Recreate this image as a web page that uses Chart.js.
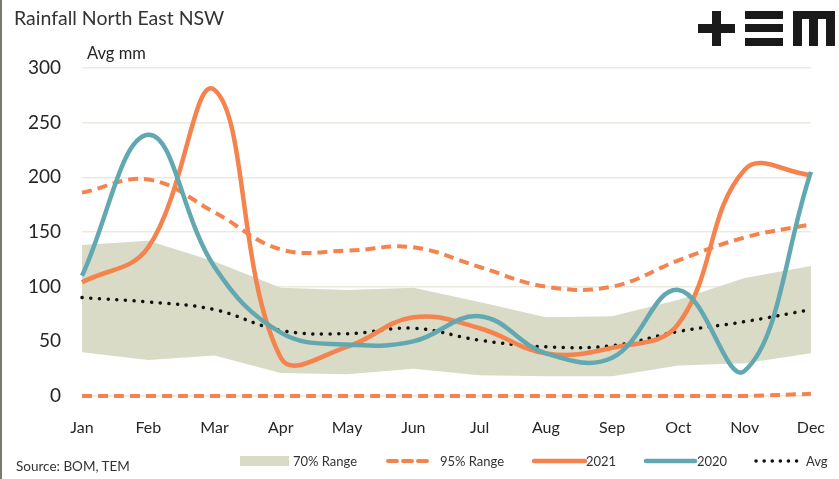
<!DOCTYPE html>
<html>
<head>
<meta charset="utf-8">
<script src="https://cdn.jsdelivr.net/npm/chart.js@4"></script>
<style>
  body { margin: 0; background: #fff; font-family: Lato, "Open Sans", sans-serif; }
  #wrap { position: relative; width: 839px; height: 479px; overflow: hidden; }
  #edge { position: absolute; left: 0; top: 0; width: 2px; height: 479px; background: #7a7a72; }
  #title { position: absolute; left: 14px; top: 6px; font-size: 19.5px; color: #333; }
  #unit { position: absolute; left: 87px; top: 43px; font-size: 16.5px; color: #262626; }
  #source { position: absolute; left: 16px; top: 458px; font-size: 13.5px; color: #333; }
  .lg { position: absolute; top: 452px; font-size: 13px; color: #333; line-height: 18px; }
  .logo div { position: absolute; background: #1a1a1a; }
</style>
</head>
<body>
<div id="wrap">
  <canvas id="rain" width="839" height="479"></canvas>
  <div id="edge"></div>
  <div id="title">Rainfall North East NSW</div>
  <div id="unit">Avg mm</div>
  <div id="source">Source: BOM, TEM</div>
  <div class="logo">
    <div style="left:698px;top:24px;width:37px;height:9px"></div>
    <div style="left:712px;top:11px;width:9px;height:35px"></div>
    <div style="left:745px;top:11px;width:38px;height:8px"></div>
    <div style="left:745px;top:24px;width:38px;height:8px"></div>
    <div style="left:745px;top:38px;width:38px;height:8px"></div>
    <div style="left:793px;top:11px;width:42px;height:8px"></div>
    <div style="left:793px;top:11px;width:9px;height:35px"></div>
    <div style="left:809px;top:11px;width:9px;height:35px"></div>
    <div style="left:826px;top:11px;width:9px;height:35px"></div>
  </div>
  <svg style="position:absolute;left:0;top:450px" width="839" height="22">
    <rect x="240" y="6" width="49" height="10" fill="#d9dbc6"/>
    <line x1="388" y1="11" x2="433" y2="11" stroke="#f4834e" stroke-width="4" stroke-dasharray="9,6" stroke-linecap="round"/>
    <line x1="534" y1="11" x2="585" y2="11" stroke="#f4834e" stroke-width="4.5" stroke-linecap="round"/>
    <line x1="646" y1="11" x2="695" y2="11" stroke="#62a8b1" stroke-width="4.5" stroke-linecap="round"/>
    <line x1="756" y1="11" x2="799" y2="11" stroke="#111" stroke-width="3.5" stroke-dasharray="0.1,8" stroke-linecap="round"/>
  </svg>
  <div class="lg" style="left:293px">70% Range</div>
  <div class="lg" style="left:440px">95% Range</div>
  <div class="lg" style="left:586px">2021</div>
  <div class="lg" style="left:697px">2020</div>
  <div class="lg" style="left:806px">Avg</div>
</div>
<script>
const months = ['Jan','Feb','Mar','Apr','May','Jun','Jul','Aug','Sep','Oct','Nov','Dec'];
const range70Low  = [40, 33, 37, 21, 20, 25, 19, 18, 18, 28, 30, 39];
const range70High = [138, 142, 123, 99, 97, 99, 86, 72, 73, 88, 108, 119];
const range95Low  = [0, 0, 0, 0, 0, 0, 0, 0, 0, 0, 0, 2];
const range95High = [186, 198, 168, 134, 133, 136, 118, 100, 100, 124, 145, 157];
const rain2021 = [104, 136, 280, 35, 45, 72, 62, 39, 44, 66, 207, 202];
const rain2020 = [110, 239, 118, 58, 47, 50, 73, 39, 35, 97, 23, 205];
const avgRain  = [90, 86, 79, 60, 57, 62, 51, 45, 46, 59, 68, 79];
const yTicks = [0, 50, 100, 150, 200, 250, 300];

const orange = '#f4834e';
const teal = '#62a8b1';
const band = '#d9dbc6';

new Chart(document.getElementById('rain'), {
  type: 'line',
  data: {
    labels: months,
    datasets: [
      { label: '70% low', data: range70Low, borderWidth: 0, pointRadius: 0, tension: 0, fill: false, order: 10 },
      { label: '70% Range', data: range70High, borderWidth: 0, pointRadius: 0, tension: 0,
        fill: '-1', backgroundColor: band, order: 9 },
      { label: '95% low', data: range95Low, borderColor: orange, borderWidth: 4, borderDash: [10, 6],
        pointRadius: 0, tension: 0.4, order: 5 },
      { label: '95% Range', data: range95High, borderColor: orange, borderWidth: 4, borderDash: [10, 6],
        pointRadius: 0, tension: 0.4, order: 5 },
      { label: 'Avg', data: avgRain, borderColor: '#111', borderWidth: 3.5, borderDash: [0.1, 8.6],
        borderCapStyle: 'round', pointRadius: 0, tension: 0.4, order: 4 },
      { label: '2021', data: rain2021, borderColor: orange, borderWidth: 4.5,
        pointRadius: 0, tension: 0.4, order: 2 },
      { label: '2020', data: rain2020, borderColor: teal, borderWidth: 4.5,
        pointRadius: 0, tension: 0.4, order: 1 }
    ]
  },
  options: {
    responsive: false,
    animation: false,
    clip: false,
    layout: { padding: { left: 0, right: 23, top: 68, bottom: 0 } },
    plugins: { legend: { display: false }, tooltip: { enabled: false } },
    scales: {
      x: {
        offset: false,
        grid: { display: false },
        border: { display: false },
        ticks: { color: '#262626', font: { family: 'Lato', size: 16 }, padding: 14, maxRotation: 0 },
        afterFit: (s) => { s.height = 83; }
      },
      y: {
        min: 0, max: 300,
        afterBuildTicks: (s) => { s.ticks = yTicks.map(v => ({ value: v })); },
        grid: { color: '#ebe9e0', lineWidth: 1.5, drawTicks: false },
        border: { display: false },
        ticks: { color: '#262626', font: { family: 'Lato', size: 19 }, padding: 21 },
        afterFit: (s) => { s.width = 82; }
      }
    }
  }
});
</script>
</body>
</html>
